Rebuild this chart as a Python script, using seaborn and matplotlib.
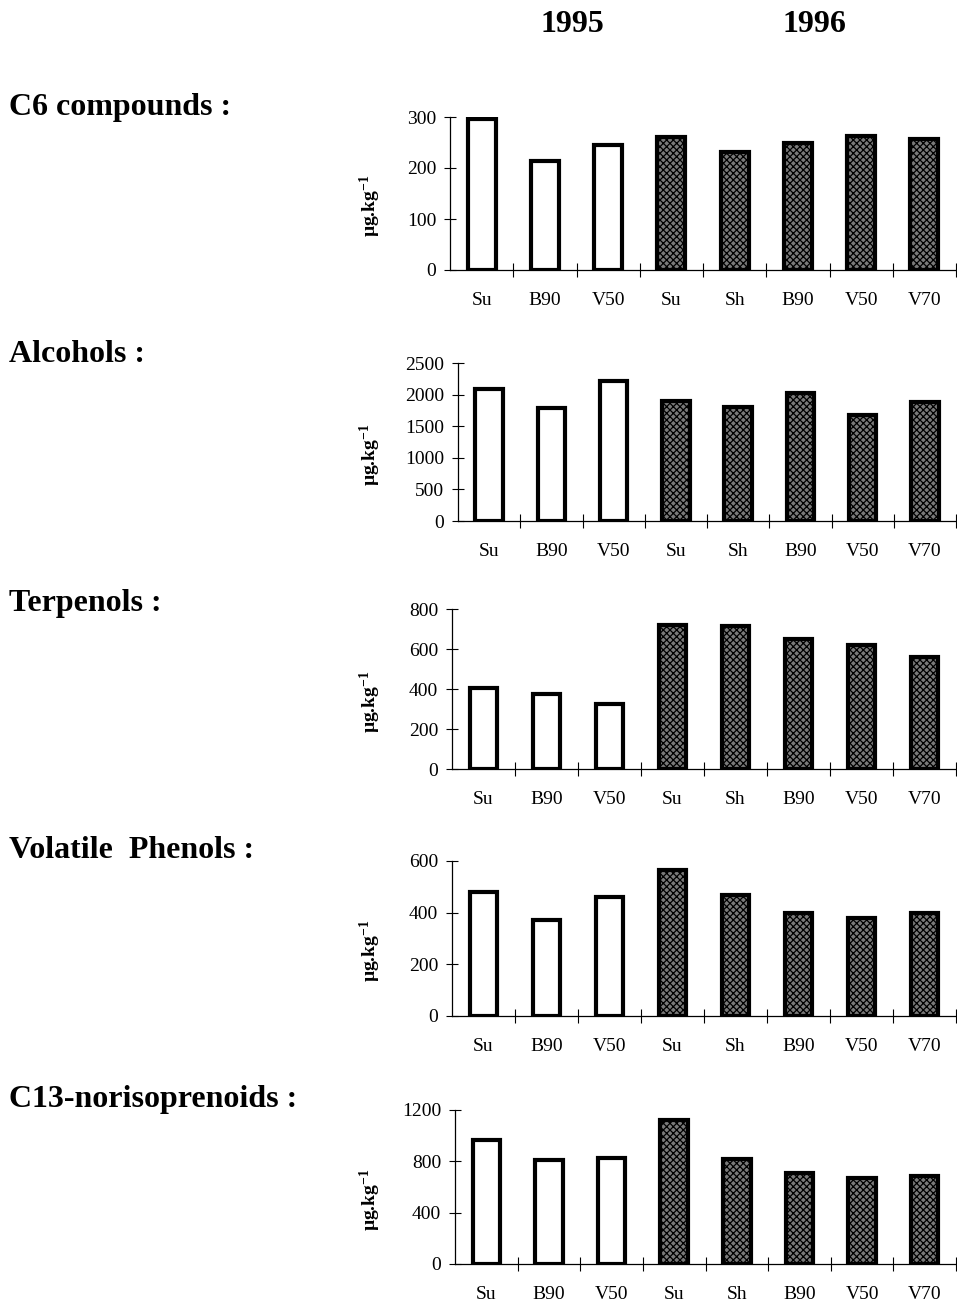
import matplotlib
matplotlib.use("Agg")
import matplotlib.pyplot as plt
import seaborn as sns
import pandas as pd
import numpy as np

sns.set_theme(style="white")
plt.rcParams['font.family'] = ['Liberation Serif', 'DejaVu Serif']
plt.rcParams['mathtext.default'] = 'regular'
plt.rcParams['hatch.linewidth'] = 0.9
for key in ['text.color', 'axes.labelcolor', 'xtick.color', 'ytick.color']:
    plt.rcParams[key] = 'black'

years = ["1995", "1995", "1995", "1996", "1996", "1996", "1996", "1996"]
categories = ["Su", "B90", "V50", "Su", "Sh", "B90", "V50", "V70"]

c6_compounds = [297, 213, 245, 260, 232, 250, 263, 256]
alcohols = [2088, 1781, 2220, 1892, 1797, 2024, 1681, 1876]
terpenols = [405, 373, 326, 720, 713, 649, 622, 561]
volatile_phenols = [481, 371, 462, 567, 468, 400, 378, 400]
c13_norisoprenoids = [969, 810, 828, 1123, 815, 712, 668, 689]

panel_titles = ["C6 compounds :", "Alcohols :", "Terpenols :",
                "Volatile  Phenols :", "C13-norisoprenoids :"]
panel_values = [c6_compounds, alcohols, terpenols, volatile_phenols, c13_norisoprenoids]
panel_ymax = [300, 2500, 800, 600, 1200]
panel_yticks = [[0, 100, 200, 300],
                [0, 500, 1000, 1500, 2000, 2500],
                [0, 200, 400, 600, 800],
                [0, 200, 400, 600],
                [0, 400, 800, 1200]]

W, H = 957, 1305
fig = plt.figure(figsize=(W / 100, H / 100), dpi=100)

# pixel boxes: left, right, top, bottom
boxes = [(450, 956, 117, 270), (458, 956, 363, 521), (452, 956, 609, 769),
         (452, 956, 861, 1016), (455, 956, 1110, 1264)]
title_y = [107, 354, 603, 851, 1100]

keys = [f"{y}-{i}" for i, y in enumerate(years)]

for k, (vals, box) in enumerate(zip(panel_values, boxes)):
    l, r, t, b = box
    ax = fig.add_axes([l / W, 1 - b / H, (r - l) / W, (b - t) / H])
    df = pd.DataFrame({"key": keys, "value": vals, "year": years})
    sns.barplot(data=df, x="key", y="value", hue="year", order=keys,
                palette={"1995": "white", "1996": "#7a7a7a"}, dodge=False,
                width=0.44, edgecolor="black", linewidth=3.0, legend=False,
                ax=ax, saturation=1)
    for p, yr in zip(ax.patches, years):
        if yr == "1996":
            p.set_hatch("xxxxx")
    ax.set_xlim(-0.5, 7.5)
    ax.set_ylim(0, panel_ymax[k])
    ax.set_yticks(panel_yticks[k])
    ax.set_yticklabels([str(v) for v in panel_yticks[k]], fontsize=14)
    ax.set_xticks(np.arange(0.5, 8, 1.0))
    ax.set_xticklabels([])
    ax.set_xticks(np.arange(0, 8), minor=True)
    ax.set_xticklabels(categories, minor=True, fontsize=14)
    ax.tick_params(axis="x", which="major", direction="inout", length=10, width=0.8, color="black", bottom=True)
    ax.tick_params(axis="x", which="minor", length=0, pad=16, bottom=True)
    ax.tick_params(axis="y", direction="inout", length=8, width=0.8, color="black", pad=6, left=True)
    for s in ["top", "right"]:
        ax.spines[s].set_visible(False)
    for s in ["left", "bottom"]:
        ax.spines[s].set_color("black")
        ax.spines[s].set_linewidth(0.9)
    ax.set_xlabel("")
    ax.set_ylabel("µg.kg$^{-1}$", fontsize=14, fontweight="bold")
    ax.yaxis.set_label_coords((383 - l) / (r - l), 0.42)
    ax.set_facecolor("none")
    fig.text(9 / W, 1 - title_y[k] / H, panel_titles[k], fontsize=23,
             fontweight="bold", ha="left", va="center")

fig.text(572 / W, 1 - 25 / H, "1995", fontsize=23, fontweight="bold", ha="center", va="center")
fig.text(814 / W, 1 - 25 / H, "1996", fontsize=23, fontweight="bold", ha="center", va="center")

fig.savefig("out.png", dpi=100, facecolor="white")
